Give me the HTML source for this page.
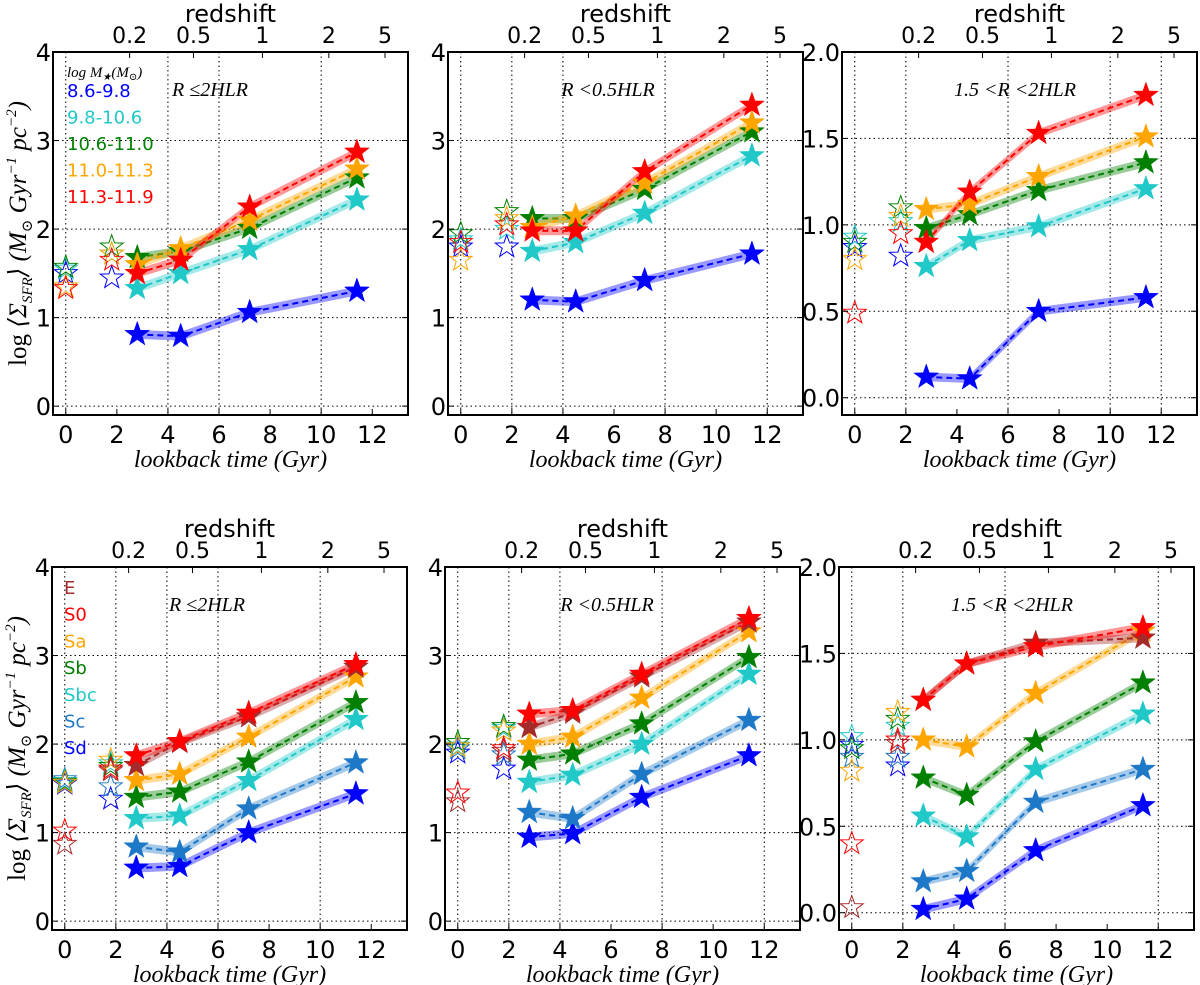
<!DOCTYPE html>
<html><head><meta charset="utf-8"><style>
body{margin:0;background:#fff}
svg{display:block;font-family:"DejaVu Sans","Liberation Sans",sans-serif}
.ser{font-family:"Liberation Serif","DejaVu Serif",serif;font-style:italic}
</style></head><body>
<svg id="fig" width="1200" height="985" viewBox="0 0 1200 985" xmlns="http://www.w3.org/2000/svg"></svg>
<script>
const times=[2.8,4.5,7.2,11.4];
const hollowTimes=[0,1.8];
const zTicks=[0.2,0.5,1,2,5];
const zTickGyr=[2.5,5.0,7.7,10.3,12.5];
const xTicks=[0,2,4,6,8,10,12];
const yTicks4=[0,1,2,3,4];
const yTicks2=[0,0.5,1,1.5,2];
const yTickLabels2=["0.0","0.5","1.0","1.5","2.0"];
const massNames=["8.6-9.8","9.8-10.6","10.6-11.0","11.0-11.3","11.3-11.9"];
const massColors=["#0000ff","#20c8c8","#008000","#ffa500","#ff0000"];
const morphNames=["Sd","Sc","Sbc","Sb","Sa","E","S0"];
const morphColors=["#0000ff","#1e78c8","#20c8c8","#008000","#ffa500","#a52a2a","#ff0000"];
const p1Values=[[0.81,0.79,1.06,1.30],[1.33,1.50,1.77,2.33],[1.68,1.75,2.01,2.58],[1.60,1.78,2.10,2.68],[1.50,1.65,2.25,2.87]];
const p1Hollow0=[1.50,1.55,1.57,1.35,1.33];
const p1Hollow1=[1.45,1.72,1.80,1.72,1.65];
const p2Values=[[1.20,1.18,1.42,1.72],[1.75,1.85,2.18,2.83],[2.12,2.12,2.45,3.10],[2.02,2.15,2.52,3.20],[1.98,1.98,2.65,3.40]];
const p2Hollow0=[1.80,1.88,1.95,1.65,1.85];
const p2Hollow1=[1.80,2.00,2.20,2.12,2.05];
const p3Values=[[0.12,0.11,0.50,0.58],[0.76,0.91,0.99,1.21],[0.98,1.06,1.20,1.36],[1.09,1.12,1.28,1.51],[0.90,1.19,1.53,1.75]];
const p3Hollow0=[0.87,0.93,0.90,0.80,0.49];
const p3Hollow1=[0.82,1.02,1.10,1.05,0.95];
const p4Values=[[0.60,0.62,1.00,1.44],[0.84,0.78,1.27,1.79],[1.16,1.19,1.59,2.28],[1.40,1.46,1.80,2.47],[1.59,1.66,2.08,2.76],[1.76,2.02,2.31,2.87],[1.87,2.03,2.35,2.90]];
const p4Hollow0=[1.55,1.60,1.58,1.57,1.56,0.87,1.02];
const p4Hollow1=[1.38,1.52,1.78,1.75,1.82,1.70,1.72];
const p5Values=[[0.95,0.99,1.40,1.87],[1.23,1.16,1.66,2.27],[1.57,1.65,2.00,2.79],[1.82,1.89,2.23,2.98],[2.00,2.08,2.52,3.27],[2.19,2.35,2.76,3.38],[2.34,2.38,2.79,3.42]];
const p5Hollow0=[1.90,1.95,1.98,2.02,1.97,1.35,1.45];
const p5Hollow1=[1.72,1.88,2.18,2.20,2.15,1.92,1.95];
const p6Values=[[0.02,0.08,0.36,0.62],[0.18,0.24,0.64,0.83],[0.56,0.44,0.83,1.15],[0.78,0.68,0.99,1.33],[1.00,0.96,1.27,1.63],[1.23,1.44,1.56,1.59],[1.23,1.44,1.54,1.65]];
const p6Hollow0=[0.97,0.90,1.02,0.95,0.82,0.03,0.40];
const p6Hollow1=[0.85,0.90,1.08,1.12,1.16,0.98,1.00];

const NS="http://www.w3.org/2000/svg";
const fig=document.getElementById('fig');
function el(tag,attrs,parent){const e=document.createElementNS(NS,tag);for(const k in attrs)e.setAttribute(k,attrs[k]);(parent||fig).appendChild(e);return e;}
function starPts(cx,cy,r){let p=[];for(let i=0;i<10;i++){const a=-Math.PI/2+i*Math.PI/5;const rr=i%2?r*0.4:r;p.push((cx+rr*Math.cos(a)).toFixed(1)+','+(cy+rr*Math.sin(a)).toFixed(1));}return p.join(' ');}

const panels=[
 {L:53,T:52,ymax:4,vals:p1Values,h0:p1Hollow0,h1:p1Hollow1,cols:massColors,lab:"R ≤2HLR",lx:210,grid:[0,4,6,10],name:"mass-total"},
 {L:448,T:52,ymax:4,vals:p2Values,h0:p2Hollow0,h1:p2Hollow1,cols:massColors,lab:"R <0.5HLR",lx:608,grid:[0,2,4,8,12],name:"mass-inner"},
 {L:842,T:52,ymax:2,vals:p3Values,h0:p3Hollow0,h1:p3Hollow1,cols:massColors,lab:"1.5 <R <2HLR",lx:1015,grid:[0,2,6,10,12],name:"mass-outer"},
 {L:52,T:567,ymax:4,vals:p4Values,h0:p4Hollow0,h1:p4Hollow1,cols:morphColors,lab:"R ≤2HLR",lx:207,grid:[0,2,4,6,10],name:"morph-total"},
 {L:445,T:567,ymax:4,vals:p5Values,h0:p5Hollow0,h1:p5Hollow1,cols:morphColors,lab:"R <0.5HLR",lx:607,grid:[0,2,4,8,12],name:"morph-inner"},
 {L:839,T:567,ymax:2,vals:p6Values,h0:p6Hollow0,h1:p6Hollow1,cols:morphColors,lab:"1.5 <R <2HLR",lx:1012,grid:[0,2,6,12],name:"morph-outer"}
];
const W=355,H=363,XMIN=-0.5,XMAX=13.4;
panels.forEach((p,pi)=>{
 const g=el('g',{});
 
 
 const ymin=-0.1;
 const X=v=>p.L+(v-XMIN)/(XMAX-XMIN)*W;
 const Y=v=>p.T+H-(v-ymin)/(p.ymax-ymin)*H;
 const yt=p.ymax==4?yTicks4:yTicks2;
 yt.forEach(v=>{const l=el('line',{x1:p.L,x2:p.L+W,y1:Y(v),y2:Y(v),stroke:'#000','stroke-width':1,'stroke-dasharray':'1.5,3'},g);});
 p.grid.forEach(v=>{const l=el('line',{x1:X(v),x2:X(v),y1:p.T,y2:p.T+H,stroke:'#000','stroke-width':1,'stroke-dasharray':'1.5,3'},g);});
 const hw=p.ymax==4?0.05:0.025;
 p.vals.forEach((s,si)=>{
  const c=p.cols[si];
  let up=times.map((t,i)=>X(t)+','+Y(s[i]+hw)),dn=times.map((t,i)=>X(t)+','+Y(s[i]-hw)).reverse();
  const band=el('polygon',{points:up.concat(dn).join(' '),fill:c,'fill-opacity':0.4,stroke:'none'},g);
  
  
  const ln=el('polyline',{points:times.map((t,i)=>X(t)+','+Y(s[i])).join(' '),fill:'none',stroke:c,'stroke-width':2,'stroke-dasharray':'6,4'},g);
  
  
 });
 p.vals.forEach((s,si)=>{
  const c=p.cols[si];
  times.forEach((t,i)=>{const st=el('polygon',{points:starPts(X(t),Y(s[i]),13),fill:c,stroke:c,'stroke-width':0.5},g);
   
   });
  [p.h0[si],p.h1[si]].forEach((v,k)=>{const st=el('polygon',{points:starPts(X(hollowTimes[k]),Y(v),12),fill:'none',stroke:c,'stroke-width':1},g);
   
   });
 });
 const fr=el('rect',{x:p.L,y:p.T,width:W,height:H,fill:'none',stroke:'#000','stroke-width':2},g);
 
 
 xTicks.forEach(v=>{el('line',{x1:X(v),x2:X(v),y1:p.T+H,y2:p.T+H-6,stroke:'#000'},g);
  const t=el('text',{x:X(v),y:p.T+H+28,'font-size':24,'text-anchor':'middle'},g);t.textContent=v;
  });
 yt.forEach((v,i)=>{el('line',{x1:p.L,x2:p.L+6,y1:Y(v),y2:Y(v),stroke:'#000'},g);el('line',{x1:p.L+W,x2:p.L+W-6,y1:Y(v),y2:Y(v),stroke:'#000'},g);
  const t=el('text',{x:p.L-2,y:Y(v)+9,'font-size':24,'text-anchor':'end'},g);t.textContent=p.ymax==4?v:yTickLabels2[i];
  });
 zTicks.forEach((z,i)=>{const xx=X(zTickGyr[i]);el('line',{x1:xx,x2:xx,y1:p.T,y2:p.T+6,stroke:'#000'},g);
  const t=el('text',{x:xx,y:p.T-9,'font-size':22,'text-anchor':'middle'},g);t.textContent=z;
  });
 const rz=el('text',{x:p.L+W/2,y:p.T-30,'font-size':24,'text-anchor':'middle'},g);rz.textContent='redshift';
 
 const xl=el('text',{x:p.L+W/2,y:p.T+H+52,'font-size':24,'text-anchor':'middle',class:'ser'},g);xl.textContent='lookback time (Gyr)';
 
 const an=el('text',{x:p.lx,y:p.T+44,'font-size':20,'text-anchor':'middle',class:'ser'},g);an.textContent=p.lab;
 
 if(pi==0||pi==3){
  const yl=el('text',{transform:`translate(${p.L-27},${p.T+H/2}) rotate(-90)`,'font-size':25,'text-anchor':'middle',class:'ser'},g);
  yl.innerHTML='<tspan font-style="normal">log</tspan> ⟨Σ<tspan font-size="15" dy="6">SFR</tspan><tspan dy="-6">⟩ (M</tspan><tspan font-size="15" dy="6">⊙</tspan><tspan dy="-6"> Gyr</tspan><tspan font-size="15" dy="-10">−1</tspan><tspan dy="10">  pc</tspan><tspan font-size="15" dy="-10">−2</tspan><tspan dy="10">)</tspan>';
  
 }
});
const lg1=el('g',{});


const lt=el('text',{x:67,y:77,'font-size':15,class:'ser'},lg1);lt.innerHTML='log M<tspan font-size="10" dy="3">★</tspan><tspan dy="-3">(M</tspan><tspan font-size="10" dy="3">⊙</tspan><tspan dy="-3">)</tspan>';
massNames.forEach((n,i)=>{const t=el('text',{x:67,y:97+i*26.5,'font-size':18,fill:massColors[i]},lg1);t.textContent=n;
 });
const lg2=el('g',{});


const morphLegend=["E","S0","Sa","Sb","Sbc","Sc","Sd"];
const morphLegendCol=["#a52a2a","#ff0000","#ffa500","#008000","#20c8c8","#1e78c8","#0000ff"];
morphLegend.forEach((n,i)=>{const t=el('text',{x:64,y:594+i*26.7,'font-size':18,fill:morphLegendCol[i]},lg2);t.textContent=n;
 });
</script>
</body></html>
